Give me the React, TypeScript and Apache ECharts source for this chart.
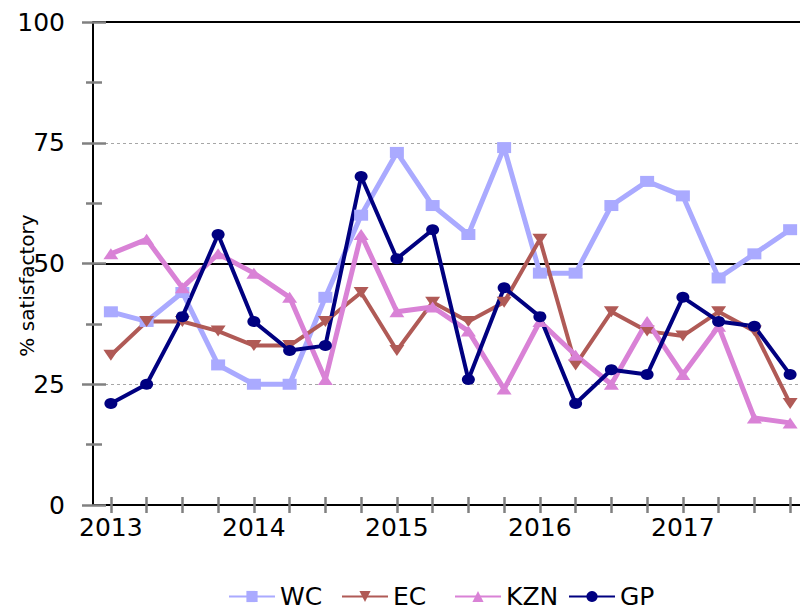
import React, { useEffect, useRef } from 'react';
import * as echarts from 'echarts';

const years = ['2013', '2014', '2015', '2016', '2017'];
const quarterNames = ['Q1', 'Q2', 'Q3', 'Q4'];
const quarters: string[] = [];
years.forEach((y) => quarterNames.forEach((q) => quarters.push(y + ' ' + q)));

const seriesNames = ['WC', 'EC', 'KZN', 'GP'];
const wcValues = [40, 38, 44, 29, 25, 25, 43, 60, 73, 62, 56, 74, 48, 48, 62, 67, 64, 47, 52, 57];
const ecValues = [31, 38, 38, 36, 33, 33, 38, 44, 32, 42, 38, 42, 55, 29, 40, 36, 35, 40, 36, 21];
const kznValues = [52, 55, 45, 52, 48, 43, 26, 56, 40, 41, 36, 24, 38, 31, 25, 38, 27, 37, 18, 17];
const gpValues = [21, 25, 39, 56, 38, 32, 33, 68, 51, 57, 26, 45, 39, 21, 28, 27, 43, 38, 37, 27];
const yTicks = [0, 25, 50, 75, 100];

const FONT = 'DejaVu Sans';
const TICK_GRAY = '#808080';
const legendLefts = [228, 341, 454, 568];

export default function App() {
  const ref = useRef<HTMLDivElement>(null);

  useEffect(() => {
    if (!ref.current) return;
    const chart = echarts.init(ref.current, null, { renderer: 'svg' });
    const yBase = { type: 'value', min: yTicks[0], max: yTicks[yTicks.length - 1], interval: 25 };
    const tickLine = { color: TICK_GRAY, width: 2.5 };

    const option: any = {
      animation: false,
      backgroundColor: '#ffffff',
      grid: { left: 93, right: -8, top: 22, bottom: 110, containLabel: false, outerBoundsMode: 'none' },
      legend: seriesNames.map((name, i) => ({
        left: legendLefts[i],
        top: 584,
        padding: 0,
        itemWidth: 46,
        itemHeight: 14,
        itemGap: 0,
        textStyle: { fontFamily: FONT, fontSize: 25, color: '#000' },
        data: [name],
      })),
      xAxis: [
        {
          type: 'category',
          data: quarters,
          boundaryGap: true,
          z: 1.5,
          axisLine: { show: true, lineStyle: { color: '#000', width: 2 } },
          axisTick: { show: true, alignWithLabel: true, interval: 0, length: 8, lineStyle: tickLine },
          axisLabel: {
            interval: 0,
            fontFamily: FONT,
            fontSize: 25,
            color: '#000',
            margin: 10,
            formatter: (v: string) => (v.endsWith('Q1') ? v.slice(0, 4) : ''),
          },
          splitLine: { show: false },
        },
        {
          type: 'category',
          data: quarters,
          position: 'bottom',
          boundaryGap: true,
          z: 1.6,
          axisLine: { show: false },
          axisTick: { show: true, inside: true, alignWithLabel: true, interval: 0, length: 8, lineStyle: tickLine },
          axisLabel: { show: false },
          splitLine: { show: false },
        },
      ],
      yAxis: [
        {
          ...yBase,
          z: 0,
          axisLine: { show: false },
          axisTick: { show: false },
          axisLabel: { show: false },
          splitLine: { show: true, lineStyle: { color: '#a6a6a6', width: 1, type: [3, 3] } },
        },
        {
          ...yBase,
          interval: 50,
          z: 1,
          axisLine: { show: false },
          axisTick: { show: false },
          axisLabel: { show: false },
          splitLine: { show: true, lineStyle: { color: '#000', width: 2 } },
        },
        {
          ...yBase,
          z: 1.5,
          position: 'left',
          name: '% satisfactory',
          nameLocation: 'middle',
          nameGap: 56,
          nameMoveOverlap: false,
          nameTextStyle: { fontFamily: FONT, fontSize: 20, color: '#000', padding: [0, 44, 0, 0] },
          axisLine: { show: true, lineStyle: { color: '#000', width: 2 } },
          axisTick: { show: true, length: 11, lineStyle: tickLine },
          minorTick: { show: true, splitNumber: 2, length: 7, lineStyle: tickLine },
          axisLabel: { fontFamily: FONT, fontSize: 25, color: '#000', margin: 28 },
          splitLine: { show: false },
        },
        {
          ...yBase,
          z: 1.6,
          position: 'left',
          axisLine: { show: false },
          axisTick: { show: true, inside: true, length: 13, lineStyle: tickLine },
          minorTick: { show: true, splitNumber: 2, length: 9, lineStyle: tickLine },
          axisLabel: { show: false },
          splitLine: { show: false },
        },
      ],
      series: [
        {
          name: 'WC',
          type: 'line',
          data: wcValues,
          yAxisIndex: 2,
          color: '#aaaaff',
          symbol: 'rect',
          symbolSize: [14, 11],
          lineStyle: { width: 5, color: '#aaaaff' },
          itemStyle: { color: '#aaaaff' },
          silent: true,
        },
        {
          name: 'EC',
          type: 'line',
          data: ecValues,
          yAxisIndex: 2,
          color: '#b05a56',
          symbol: 'triangle',
          symbolRotate: 180,
          symbolSize: [15, 11],
          lineStyle: { width: 4, color: '#b05a56' },
          itemStyle: { color: '#b05a56' },
          silent: true,
        },
        {
          name: 'KZN',
          type: 'line',
          data: kznValues,
          yAxisIndex: 2,
          color: '#d982d6',
          symbol: 'triangle',
          symbolSize: [15, 11],
          lineStyle: { width: 5, color: '#d982d6' },
          itemStyle: { color: '#d982d6' },
          silent: true,
        },
        {
          name: 'GP',
          type: 'line',
          data: gpValues,
          yAxisIndex: 2,
          color: '#000080',
          symbol: 'circle',
          symbolSize: [13, 11],
          lineStyle: { width: 4, color: '#000080' },
          itemStyle: { color: '#000080' },
          silent: true,
        },
      ],
    };
    chart.setOption(option);
    return () => chart.dispose();
  }, []);

  return (
    <div
      ref={ref}
      style={{ position: 'absolute', left: 0, top: 0, width: 800, height: 615, overflow: 'hidden' }}
    />
  );
}
